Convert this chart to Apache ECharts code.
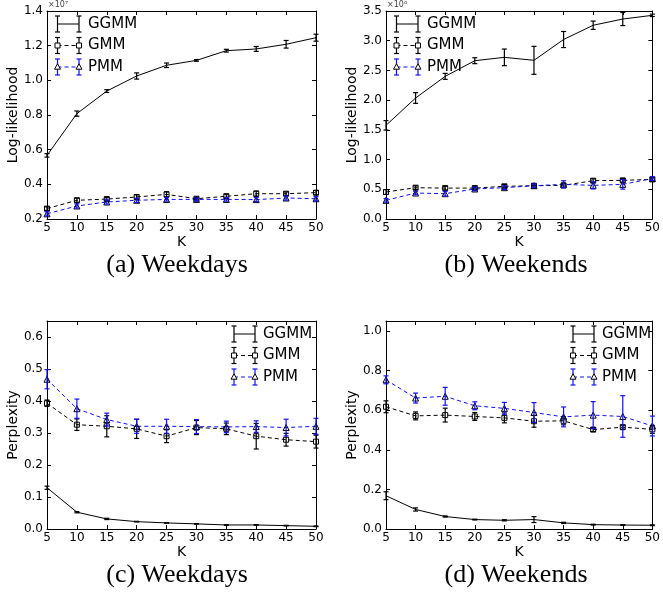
<!DOCTYPE html>
<html><head><meta charset="utf-8">
<script src="https://cdn.jsdelivr.net/npm/echarts@6/dist/echarts.min.js"></script>
<style>html,body{margin:0;padding:0;background:#fff}#c{width:663px;height:593px}</style>
</head><body><div id="c"></div><script>
// Number of clusters K
const K = [5, 10, 15, 20, 25, 30, 35, 40, 45, 50];

// (a) Weekdays, log-likelihood (x1e7)
const llWdGGMM    = [0.567, 0.808, 0.938, 1.025, 1.087, 1.115, 1.171, 1.181, 1.208, 1.246];
const llWdGGMMErr = [0.010, 0.015, 0.008, 0.018, 0.013, 0.005, 0.008, 0.014, 0.022, 0.020];
const llWdGMM     = [0.260, 0.308, 0.315, 0.327, 0.342, 0.317, 0.331, 0.346, 0.346, 0.352];
const llWdGMMErr  = [0.010, 0.012, 0.010, 0.012, 0.015, 0.008, 0.012, 0.015, 0.010, 0.012];
const llWdPMM     = [0.230, 0.275, 0.298, 0.308, 0.313, 0.313, 0.313, 0.312, 0.321, 0.317];
const llWdPMMErr  = [0.012, 0.012, 0.012, 0.012, 0.010, 0.008, 0.010, 0.012, 0.012, 0.012];

// (b) Weekends, log-likelihood (x1e6)
const llWeGGMM    = [1.576, 2.036, 2.400, 2.664, 2.720, 2.670, 3.020, 3.260, 3.365, 3.427];
const llWeGGMMErr = [0.080, 0.090, 0.050, 0.050, 0.140, 0.235, 0.135, 0.070, 0.110, 0.020];
const llWeGMM     = [0.454, 0.527, 0.520, 0.520, 0.550, 0.560, 0.566, 0.645, 0.650, 0.667];
const llWeGMMErr  = [0.040, 0.030, 0.030, 0.030, 0.030, 0.030, 0.030, 0.030, 0.030, 0.030];
const llWePMM     = [0.314, 0.437, 0.426, 0.505, 0.527, 0.560, 0.583, 0.566, 0.583, 0.680];
const llWePMMErr  = [0.030, 0.030, 0.040, 0.030, 0.030, 0.030, 0.060, 0.060, 0.080, 0.030];

// (c) Weekdays, perplexity
const ppWdGGMM    = [0.129, 0.0525, 0.0315, 0.023, 0.019, 0.016, 0.0126, 0.0126, 0.0105, 0.0084];
const ppWdGGMMErr = [0.005, 0.002, 0.002, 0.001, 0.001, 0.001, 0.001, 0.001, 0.001, 0.001];
const ppWdGMM     = [0.393, 0.326, 0.321, 0.313, 0.290, 0.317, 0.313, 0.290, 0.279, 0.273];
const ppWdGMMErr  = [0.010, 0.018, 0.033, 0.030, 0.020, 0.022, 0.018, 0.040, 0.020, 0.020];
const ppWdPMM     = [0.468, 0.376, 0.342, 0.321, 0.321, 0.320, 0.319, 0.320, 0.317, 0.321];
const ppWdPMMErr  = [0.030, 0.030, 0.020, 0.022, 0.022, 0.022, 0.018, 0.018, 0.026, 0.025];

// (d) Weekends, perplexity
const ppWeGGMM    = [0.168, 0.0986, 0.063, 0.0476, 0.044, 0.0476, 0.031, 0.022, 0.020, 0.019];
const ppWeGGMMErr = [0.020, 0.008, 0.003, 0.002, 0.003, 0.015, 0.003, 0.002, 0.002, 0.002];
const ppWeGMM     = [0.617, 0.571, 0.575, 0.568, 0.561, 0.544, 0.546, 0.502, 0.514, 0.503];
const ppWeGMMErr  = [0.030, 0.020, 0.035, 0.020, 0.025, 0.030, 0.020, 0.010, 0.010, 0.020];
const ppWePMM     = [0.753, 0.661, 0.670, 0.622, 0.609, 0.588, 0.566, 0.575, 0.568, 0.520];
const ppWePMMErr  = [0.020, 0.025, 0.045, 0.020, 0.030, 0.050, 0.050, 0.068, 0.105, 0.050];

const methodNames = ['GGMM', 'GMM', 'PMM'];
const captions = ['(a) Weekdays', '(b) Weekends', '(c) Weekdays', '(d) Weekends'];

const BLUE = '#1010ff';
const SANS = 'DejaVu Sans';

const panels = [
  {grid:{left:47, top:11, width:269, height:208}, ymin:0.2, ymax:1.4, yint:0.2, yname:'Log-likelihood', nameGap:26, exp:'×10⁷', leg:'left', cap:[177,265],
   data:[[llWdGGMM,llWdGGMMErr],[llWdGMM,llWdGMMErr],[llWdPMM,llWdPMMErr]]},
  {grid:{left:386, top:11, width:269, height:208}, ymin:0, ymax:3.5, yint:0.5, yname:'Log-likelihood', nameGap:24, exp:'×10⁶', leg:'left', cap:[516,265],
   data:[[llWeGGMM,llWeGGMMErr],[llWeGMM,llWeGMMErr],[llWePMM,llWePMMErr]]},
  {grid:{left:47, top:321, width:269, height:208}, ymin:0, ymax:0.65, yint:0.1, yname:'Perplexity', nameGap:25, exp:null, leg:'right', cap:[177,575],
   data:[[ppWdGGMM,ppWdGGMMErr],[ppWdGMM,ppWdGMMErr],[ppWdPMM,ppWdPMMErr]]},
  {grid:{left:386, top:321, width:269, height:208}, ymin:0, ymax:1.05, yint:0.2, yname:'Perplexity', nameGap:24, exp:null, leg:'right', cap:[516,575],
   data:[[ppWeGGMM,ppWeGGMMErr],[ppWeGMM,ppWeGMMErr],[ppWePMM,ppWePMMErr]]}
];

const styles = [
  {line:'#000', type:'solid', symbol:'none', size:0, err:'#000'},
  {line:'#000', type:[4,3], symbol:'rect', size:5, err:'#000'},
  {line:BLUE, type:[4,3], symbol:'triangle', size:6, err:BLUE}
];

const grids = [], xAxes = [], yAxes = [], series = [], graphics = [];
const tick = {inside:true, length:4, lineStyle:{color:'#000', width:1}};
const axLine = {show:true, onZero:false, lineStyle:{color:'#000', width:1}};

panels.forEach((p, i) => {
  grids.push(p.grid);
  const xBase = {type:'value', gridIndex:i, min:5, max:50, interval:5, axisLine:axLine, axisTick:tick, splitLine:{show:false}};
  xAxes.push(Object.assign({}, xBase, {position:'bottom',
    axisLabel:{color:'#000', fontSize:12, fontFamily:SANS, margin:3},
    name:'K', nameLocation:'middle', nameGap:13, nameTextStyle:{color:'#000', fontSize:14, fontFamily:SANS}}));
  xAxes.push(Object.assign({}, xBase, {position:'top', axisLabel:{show:false}}));
  const yBase = {type:'value', gridIndex:i, min:p.ymin, max:p.ymax, interval:p.yint, axisLine:axLine, axisTick:tick, splitLine:{show:false}};
  yAxes.push(Object.assign({}, yBase, {position:'left',
    axisLabel:{color:'#000', fontSize:12, fontFamily:SANS, margin:4, showMaxLabel: (p.ymax/p.yint) % 1 < 1e-9 || (p.ymax/p.yint) % 1 > 1-1e-9, formatter: v => v.toFixed(1)},
    name:p.yname, nameLocation:'middle', nameGap:p.nameGap, nameRotate:90, nameTextStyle:{color:'#000', fontSize:14, fontFamily:SANS}}));
  yAxes.push(Object.assign({}, yBase, {position:'right', axisLabel:{show:false}}));

  p.data.forEach((d, j) => {
    const st = styles[j];
    series.push({
      type:'line', xAxisIndex:2*i, yAxisIndex:2*i, name:methodNames[j],
      data:K.map((k, n) => [k, d[0][n]]),
      lineStyle:{color:st.line, width:1, type:st.type},
      symbol:st.symbol, symbolSize:st.size, showSymbol:st.symbol !== 'none',
      itemStyle:{color:'rgba(255,255,255,0)', borderColor:'#000', borderWidth:1},
      clip:false, z:2, silent:true
    });
    series.push({
      type:'custom', xAxisIndex:2*i, yAxisIndex:2*i, name:methodNames[j] + ' err',
      data:K.map((k, n) => [k, d[0][n] - d[1][n], d[0][n] + d[1][n]]),
      encode:{x:0, y:[1,2]}, clip:false, z:3, silent:true,
      renderItem:(params, api) => {
        const a = api.coord([api.value(0), api.value(1)]);
        const b = api.coord([api.value(0), api.value(2)]);
        const s = {stroke:st.err, lineWidth:1.2};
        const w = 2.5;
        return {type:'group', children:[
          {type:'line', shape:{x1:a[0], y1:a[1], x2:b[0], y2:b[1]}, style:s},
          {type:'line', shape:{x1:a[0]-w, y1:a[1], x2:a[0]+w, y2:a[1]}, style:s},
          {type:'line', shape:{x1:b[0]-w, y1:b[1], x2:b[0]+w, y2:b[1]}, style:s}
        ]};
      }
    });
  });

  // exponent label
  if (p.exp) {
    graphics.push({type:'text', left:p.grid.left + 1, top:1, style:{text:p.exp, font:'8px "DejaVu Sans"', fill:'#444'}});
  }
  // legend (drawn)
  const g = p.grid;
  let x1, x2, tx;
  if (p.leg === 'left') { x1 = g.left + 10.5; x2 = g.left + 32; tx = g.left + 41; }
  else { x1 = g.left + g.width - 82; x2 = g.left + g.width - 61; tx = g.left + g.width - 53; }
  const ys = [g.top + 13, g.top + 34.5, g.top + 56];
  methodNames.forEach((nm, j) => {
    const st = styles[j];
    const y = ys[j];
    const capH = 8;
    graphics.push({type:'line', shape:{x1:x1, y1:y, x2:x2, y2:y}, style:{stroke:st.line, lineWidth:1, lineDash: st.type === 'solid' ? null : st.type}});
    [x1, x2].forEach(xx => {
      graphics.push({type:'line', shape:{x1:xx, y1:y-capH, x2:xx, y2:y+capH}, style:{stroke:st.err, lineWidth:1.2}});
      graphics.push({type:'line', shape:{x1:xx-2.5, y1:y-capH, x2:xx+2.5, y2:y-capH}, style:{stroke:st.err, lineWidth:1.2}});
      graphics.push({type:'line', shape:{x1:xx-2.5, y1:y+capH, x2:xx+2.5, y2:y+capH}, style:{stroke:st.err, lineWidth:1.2}});
      if (st.symbol === 'rect') {
        graphics.push({type:'rect', shape:{x:xx-2.5, y:y-2.5, width:5, height:5}, style:{fill:'#fff', stroke:'#000', lineWidth:1}});
      } else if (st.symbol === 'triangle') {
        graphics.push({type:'polygon', shape:{points:[[xx, y-3.2],[xx-3, y+2.2],[xx+3, y+2.2]]}, style:{fill:'#fff', stroke:'#000', lineWidth:1}});
      }
    });
    graphics.push({type:'text', x:tx, y:y, style:{text:nm, font:'15px "DejaVu Sans"', fill:'#000', textVerticalAlign:'middle', verticalAlign:'middle'}});
  });
  // caption
  graphics.push({type:'text', x:p.cap[0], y:p.cap[1], style:{text:captions[i], font:'26px "Liberation Serif"', fill:'#000', textAlign:'center', align:'center', textVerticalAlign:'middle', verticalAlign:'middle'}});
});

const chart = echarts.init(document.getElementById('c'), null, {renderer:'canvas'});
chart.setOption({
  animation:false, backgroundColor:'#fff',
  grid:grids, xAxis:xAxes, yAxis:yAxes, series:series, graphic:{elements:graphics}
});
</script></body></html>
